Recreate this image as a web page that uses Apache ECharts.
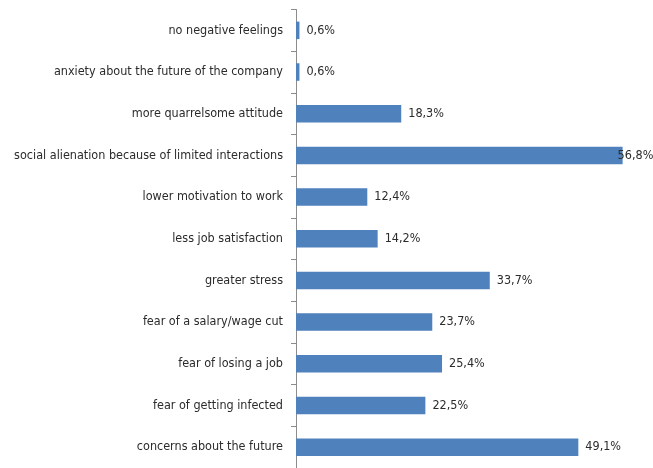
<!DOCTYPE html>
<html>
<head>
<meta charset="utf-8">
<script src="https://cdn.jsdelivr.net/npm/echarts@6/dist/echarts.min.js"></script>
<style>
  html, body { margin: 0; padding: 0; background: #fff; }
  #chart { width: 653px; height: 468px; }
</style>
</head>
<body>
<div id="chart"></div>
<script>
// Negative feelings reported by respondents (share of answers, %)
const categories = [
  'no negative feelings',
  'anxiety about the future of the company',
  'more quarrelsome attitude',
  'social alienation because of limited interactions',
  'lower motivation to work',
  'less job satisfaction',
  'greater stress',
  'fear of a salary/wage cut',
  'fear of losing a job',
  'fear of getting infected',
  'concerns about the future'
];
const shares = [0.6, 0.6, 18.3, 56.8, 12.4, 14.2, 33.7, 23.7, 25.4, 22.5, 49.1];

const FONT = '"DejaVu Sans Condensed", "Liberation Sans", sans-serif';
const fmt = v => v.toFixed(1).replace('.', ',') + '%';

const seriesData = shares.map(v => {
  const item = { value: v };
  // the longest bar keeps its label tucked against the bar end
  if (v > 55) item.label = { offset: [-12, 0] };
  return item;
});

const chart = echarts.init(document.getElementById('chart'));
chart.setOption({
  animation: false,
  grid: { left: 296, top: 9.5, width: 345, height: 462, containLabel: false },
  xAxis: {
    type: 'value', min: 0, max: 60,
    show: false
  },
  yAxis: {
    type: 'category', data: categories, inverse: true,
    axisLine: { show: true, lineStyle: { color: '#8c8c8c', width: 1 } },
    axisTick: { show: true, length: 5, lineStyle: { color: '#8c8c8c' } },
    axisLabel: { color: '#2b2b2b', fontFamily: FONT, fontSize: 12.5, margin: 13 }
  },
  series: [{
    type: 'bar',
    data: seriesData,
    barWidth: 17.5,
    itemStyle: { color: '#4f81bd' },
    label: {
      show: true, position: 'right', distance: 7,
      color: '#2b2b2b', fontFamily: FONT, fontSize: 12.5,
      formatter: p => fmt(p.value)
    }
  }]
});
</script>
</body>
</html>
